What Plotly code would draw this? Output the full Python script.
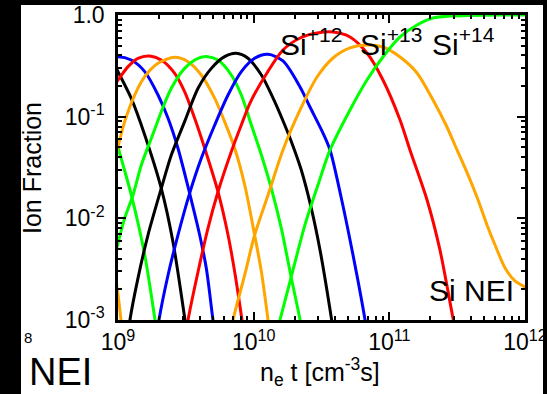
import numpy as np
import plotly.graph_objects as go

# ---- data: log10(n_e t [cm^-3 s]) and log10(ion fraction) ----
si3_lx = [8.97, 9.0, 9.022, 9.045]
si3_ly = [-2.50, -2.75, -3.0, -3.25]

si4_lx = [8.963, 9.0, 9.098, 9.197, 9.273, 9.307]
si4_ly = [-1.082, -1.295, -1.770, -2.361, -3.0, -3.311]

si5_lx = [8.963, 9.0, 9.098, 9.197, 9.319, 9.405, 9.494, 9.528]
si5_ly = [-0.459, -0.557, -0.820, -1.180, -1.705, -2.230, -3.0, -3.311]

si6_lx = [8.951, 9.0, 9.098, 9.197, 9.295, 9.369, 9.442, 9.528, 9.602, 9.651, 9.700, 9.732]
si6_ly = [-0.426, -0.410, -0.443, -0.557, -0.787, -1.016, -1.311, -1.754, -2.164, -2.492, -3.0, -3.311]

si7_lx = [8.951, 9.0, 9.074, 9.147, 9.233, 9.319, 9.418, 9.491, 9.565, 9.639, 9.737, 9.811, 9.860, 9.914, 9.946]
si7_ly = [-0.721, -0.639, -0.508, -0.426, -0.403, -0.443, -0.574, -0.754, -1.016, -1.311, -1.738, -2.164, -2.525, -3.0, -3.311]

si8_lx = [8.951, 9.0, 9.049, 9.123, 9.197, 9.295, 9.418, 9.516, 9.614, 9.713, 9.786, 9.860, 9.934, 10.007, 10.057, 10.106, 10.135]
si8_ly = [-1.541, -1.295, -1.049, -0.787, -0.607, -0.475, -0.416, -0.459, -0.590, -0.820, -1.049, -1.311, -1.672, -2.164, -2.525, -3.0, -3.311]

si9_lx = [8.951, 9.0, 9.049, 9.111, 9.172, 9.246, 9.319, 9.393, 9.491, 9.590, 9.663, 9.737, 9.835, 9.909, 9.983, 10.057, 10.130, 10.204, 10.278, 10.342, 10.376]
si9_ly = [-2.525, -2.243, -2.0, -1.770, -1.475, -1.213, -0.951, -0.721, -0.525, -0.426, -0.410, -0.443, -0.590, -0.787, -1.082, -1.377, -1.705, -2.098, -2.590, -3.0, -3.311]

si10_lx = [9.061, 9.088, 9.147, 9.221, 9.319, 9.393, 9.491, 9.590, 9.688, 9.786, 9.872, 9.958, 10.057, 10.155, 10.229, 10.278, 10.351, 10.425, 10.489, 10.575, 10.609]
si10_ly = [-3.311, -3.0, -2.590, -2.164, -1.705, -1.377, -1.049, -0.721, -0.525, -0.410, -0.377, -0.426, -0.590, -0.852, -1.082, -1.246, -1.525, -1.902, -2.311, -3.0, -3.311]

si11_lx = [9.270, 9.302, 9.369, 9.442, 9.528, 9.614, 9.713, 9.811, 9.909, 10.007, 10.106, 10.216, 10.342, 10.415, 10.511, 10.563, 10.641, 10.725, 10.821, 10.855]
si11_ly = [-3.311, -3.0, -2.557, -2.164, -1.754, -1.410, -1.082, -0.787, -0.557, -0.426, -0.387, -0.452, -0.708, -0.905, -1.161, -1.328, -1.770, -2.311, -3.0, -3.311]

si12_lx = [9.479, 9.516, 9.590, 9.663, 9.737, 9.835, 9.909, 9.973, 10.098, 10.216, 10.342, 10.467, 10.585, 10.710, 10.835, 10.953, 11.079, 11.152, 11.278, 11.373, 11.469, 11.518]
si12_ly = [-3.311, -3.0, -2.525, -2.098, -1.738, -1.344, -1.082, -0.866, -0.570, -0.344, -0.226, -0.177, -0.167, -0.216, -0.374, -0.639, -1.033, -1.328, -1.820, -2.311, -2.980, -3.311]

si13_lx = [9.811, 9.848, 9.934, 10.007, 10.106, 10.216, 10.342, 10.467, 10.585, 10.710, 10.835, 10.953, 11.079, 11.204, 11.322, 11.418, 11.499, 11.580, 11.654, 11.720, 11.779, 11.853, 11.926, 12.0, 12.044]
si13_ly = [-3.311, -3.0, -2.557, -2.164, -1.770, -1.328, -0.934, -0.610, -0.423, -0.324, -0.295, -0.315, -0.413, -0.570, -0.836, -1.082, -1.327, -1.573, -1.819, -2.065, -2.262, -2.488, -2.616, -2.675, -2.704]

si14_lx = [10.165, 10.194, 10.275, 10.378, 10.474, 10.563, 10.710, 10.835, 10.953, 11.079, 11.204, 11.322, 11.447, 11.572, 11.816, 12.05]
si14_ly = [-3.147, -2.999, -2.586, -2.065, -1.672, -1.327, -0.934, -0.639, -0.413, -0.216, -0.098, -0.029, -0.010, -0.004, -0.001, 0.0]

curves = [
    (si3_lx, si3_ly, "#ffa500"),
    (si4_lx, si4_ly, "#00ff00"),
    (si5_lx, si5_ly, "#000000"),
    (si6_lx, si6_ly, "#0000ff"),
    (si7_lx, si7_ly, "#ff0000"),
    (si8_lx, si8_ly, "#ffa500"),
    (si9_lx, si9_ly, "#00ff00"),
    (si10_lx, si10_ly, "#000000"),
    (si11_lx, si11_ly, "#0000ff"),
    (si12_lx, si12_ly, "#ff0000"),
    (si13_lx, si13_ly, "#ffa500"),
    (si14_lx, si14_ly, "#00ff00"),
]

x_tickvals = [1e9, 1e10, 1e11, 1e12]
x_ticktext = ["10<sup>9</sup>", "10<sup>10</sup>", "10<sup>11</sup>", "10<sup>12</sup>"]
y_tickvals = [1e-3, 1e-2, 1e-1, 1.0]
y_ticktext = ["10<sup>-3</sup>", "10<sup>-2</sup>", "10<sup>-1</sup>", "1.0"]

W, H = 547, 394
L, R, T, B = 118, 525, 15, 320

def px(x):
    return (x - L) / (R - L)

def py(y):
    return (B - y) / (B - T)

fig = go.Figure()
for lx, ly, col in curves:
    fig.add_trace(go.Scatter(
        x=10 ** np.array(lx), y=10 ** np.array(ly), mode="lines",
        line=dict(color=col, width=3, shape="spline", smoothing=0.8),
        showlegend=False, hoverinfo="skip"))

minor_x = [m * 10 ** k for k in range(9, 12) for m in range(2, 10)]
minor_y = [m * 10 ** k for k in range(-3, 0) for m in range(2, 10)]

FONT = "Liberation Sans, Arial, Helvetica, sans-serif"
axis_common = dict(
    type="log", showgrid=False, zeroline=False, showline=True, linecolor="black",
    linewidth=2.5, mirror="ticks", ticks="inside", ticklen=8, tickwidth=2,
    tickcolor="black", tickfont=dict(family=FONT, size=23, color="black"),
    automargin=False,
)
fig.update_xaxes(**axis_common, range=[9, 12], tickmode="array",
                 tickvals=x_tickvals, ticktext=x_ticktext,
                 minor=dict(ticks="inside", ticklen=4, tickwidth=1.5,
                            tickcolor="black", tickmode="array", tickvals=minor_x))
fig.update_yaxes(**axis_common, range=[-3, 0], tickmode="array",
                 tickvals=y_tickvals, ticktext=y_ticktext, ticklabelstandoff=6,
                 minor=dict(ticks="inside", ticklen=4, tickwidth=1.5,
                            tickcolor="black", tickmode="array", tickvals=minor_y))

shapes = [
    dict(type="rect", xref="paper", yref="paper", x0=px(21), x1=px(543),
         y0=py(394), y1=py(5), fillcolor="white", line=dict(width=0), layer="below"),
    dict(type="rect", xref="paper", yref="paper", x0=px(543), x1=px(548),
         y0=py(395), y1=py(-1), fillcolor="black", line=dict(width=0), layer="above"),
]

ann = [
    dict(text="Si<sup>+12</sup>", x=px(278), y=py(42), xanchor="left", yanchor="middle", size=30),
    dict(text="Si<sup>+13</sup>", x=px(358), y=py(42), xanchor="left", yanchor="middle", size=30),
    dict(text="Si<sup>+14</sup>", x=px(430), y=py(42), xanchor="left", yanchor="middle", size=30),
    dict(text="Si NEI", x=px(516), y=py(290), xanchor="right", yanchor="middle", size=30),
    dict(text="NEI", x=px(27), y=py(372), xanchor="left", yanchor="middle", size=38),
    dict(text="8", x=px(22), y=py(337), xanchor="left", yanchor="middle", size=15),
    dict(text="n<sub>e</sub> t [cm<sup>-3</sup>s]", x=px(320), y=py(372), xanchor="center", yanchor="middle", size=25),
    dict(text="Ion Fraction", x=px(32), y=py(168), xanchor="center", yanchor="middle", size=25, textangle=-90),
]
annotations = []
for a in ann:
    d = dict(text=a["text"], x=a["x"], y=a["y"], xref="paper", yref="paper",
             xanchor=a["xanchor"], yanchor=a["yanchor"], showarrow=False,
             font=dict(family=FONT, size=a["size"], color="black"))
    if "textangle" in a:
        d["textangle"] = a["textangle"]
    annotations.append(d)

fig.update_layout(
    width=W, height=H, autosize=False,
    margin=dict(l=L, r=W - R, t=T, b=H - B, pad=0),
    paper_bgcolor="black", plot_bgcolor="white",
    shapes=shapes, annotations=annotations,
)
fig.write_html("out.html")
